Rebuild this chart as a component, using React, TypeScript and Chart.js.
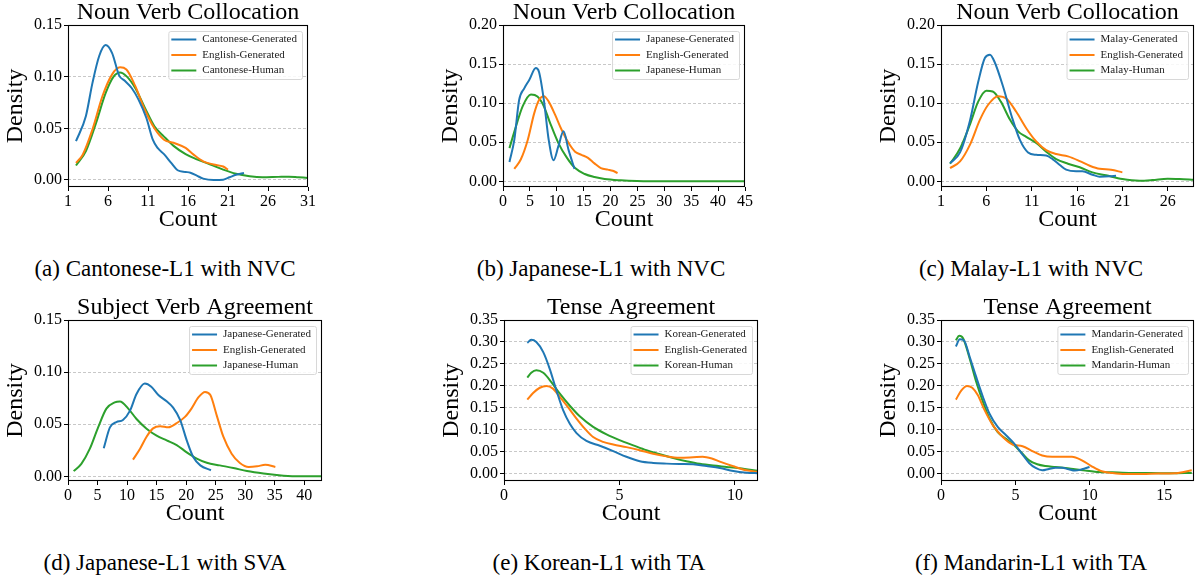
import React, { useEffect, useRef } from 'react';
import { Chart, registerables } from 'chart.js';

Chart.register(...registerables);

type Pt = [number, number];

// ---------- (a) Cantonese-L1 with NVC ----------
const cantoneseGenA: Pt[] = [[2.0,0.0375],[3.24,0.062],[4.06,0.094],[4.9,0.12],[5.7,0.1306],[6.5,0.123],[7.4,0.101],[8.1,0.096],[8.96,0.089],[9.8,0.078],[10.8,0.060],[11.6,0.039],[12.2,0.031],[13.0,0.025],[13.9,0.0165],[14.7,0.0094],[15.7,0.0078],[16.3,0.007],[17.1,0.0042],[17.9,0.0013],[19.2,0.0],[20.4,0.0003],[21.2,0.0026],[22.0,0.005],[23.0,0.0068]];
const englishGenA: Pt[] = [[2.0,0.0165],[2.84,0.0245],[4.06,0.049],[5.3,0.081],[6.5,0.102],[7.5,0.109],[8.3,0.107],[9.4,0.091],[10.6,0.068],[11.8,0.050],[13.0,0.039],[14.2,0.036],[15.7,0.031],[16.7,0.0245],[17.9,0.018],[19.2,0.015],[20.4,0.013],[21.0,0.010]];
const cantoneseHumA: Pt[] = [[2.0,0.014],[3.24,0.028],[4.5,0.055],[5.7,0.084],[6.7,0.100],[7.5,0.104],[8.3,0.1005],[9.4,0.089],[10.6,0.070],[11.8,0.052],[13.0,0.042],[14.2,0.033],[15.7,0.025],[17.1,0.020],[18.8,0.015],[20.4,0.010],[22.0,0.006],[23.7,0.0036],[25.3,0.0026],[27.3,0.003],[28.6,0.0032],[29.8,0.0026],[31.0,0.002]];

// ---------- (b) Japanese-L1 with NVC ----------
const japaneseGenB: Pt[] = [[1.2,0.0247],[2.1,0.053],[3.0,0.104],[3.95,0.119],[4.9,0.130],[6.1,0.145],[6.7,0.140],[7.6,0.104],[8.5,0.053],[9.4,0.027],[10.3,0.045],[11.25,0.064],[12.2,0.040],[13.3,0.016]];
const englishGenB: Pt[] = [[2.1,0.016],[3.3,0.028],[4.6,0.053],[5.8,0.087],[6.7,0.104],[7.6,0.109],[8.5,0.102],[9.7,0.085],[10.9,0.066],[12.2,0.049],[13.4,0.038],[14.6,0.034],[15.8,0.030],[17.0,0.023],[18.2,0.017],[19.5,0.015],[20.4,0.0136],[21.3,0.0106]];
const japaneseHumB: Pt[] = [[1.2,0.0425],[2.4,0.070],[3.65,0.096],[5.2,0.111],[6.4,0.1085],[7.6,0.096],[8.8,0.074],[10.3,0.049],[11.9,0.030],[13.4,0.017],[15.2,0.0094],[17.0,0.0055],[18.9,0.003],[21.9,0.0013],[24.9,0.0004],[31.0,0.0],[45.0,0.0]];

// ---------- (c) Malay-L1 with NVC ----------
const malayGenC: Pt[] = [[2.0,0.0234],[3.1,0.037],[4.2,0.078],[5.1,0.127],[5.85,0.158],[6.4,0.162],[6.9,0.153],[7.85,0.121],[8.8,0.083],[9.7,0.053],[10.6,0.037],[11.5,0.034],[12.6,0.033],[13.3,0.0285],[14.1,0.021],[14.8,0.015],[15.9,0.0128],[16.6,0.0128],[17.7,0.0085],[18.5,0.006],[19.6,0.0064],[20.3,0.0072]];
const englishGenC: Pt[] = [[2.0,0.017],[3.1,0.0255],[4.2,0.047],[5.3,0.079],[6.2,0.098],[7.3,0.109],[8.2,0.106],[9.3,0.089],[10.4,0.068],[11.5,0.051],[12.6,0.040],[13.7,0.035],[15.0,0.032],[16.3,0.026],[17.4,0.020],[18.5,0.016],[19.75,0.015],[21.0,0.0115]];
const malayHumC: Pt[] = [[2.0,0.0226],[3.1,0.042],[4.2,0.073],[5.1,0.102],[6.0,0.116],[6.7,0.115],[7.6,0.102],[8.6,0.079],[9.5,0.064],[10.4,0.057],[11.5,0.049],[12.6,0.038],[13.7,0.0285],[15.0,0.0226],[16.3,0.018],[17.7,0.0115],[19.2,0.0077],[21.0,0.003],[22.9,0.0009],[24.3,0.0017],[26.0,0.0034],[27.3,0.003],[28.9,0.002]];

// ---------- (d) Japanese-L1 with SVA ----------
const japaneseGenD: Pt[] = [[6.05,0.027],[7.1,0.047],[8.2,0.052],[9.3,0.054],[10.5,0.063],[11.6,0.079],[13.0,0.089],[14.1,0.086],[15.3,0.078],[16.7,0.072],[17.8,0.066],[19.0,0.054],[20.1,0.0345],[21.2,0.0185],[22.4,0.0105],[24.2,0.0058]];
const englishGenD: Pt[] = [[11.0,0.016],[12.2,0.0265],[13.3,0.038],[14.4,0.046],[15.6,0.048],[17.0,0.047],[18.4,0.051],[19.8,0.057],[20.9,0.065],[22.1,0.076],[23.2,0.081],[24.1,0.078],[25.2,0.058],[26.3,0.038],[27.7,0.0217],[29.1,0.0128],[30.6,0.009],[32.0,0.0096],[33.4,0.011],[35.1,0.009]];
const japaneseHumD: Pt[] = [[0.96,0.005],[2.26,0.012],[3.7,0.0265],[5.1,0.047],[6.5,0.065],[7.9,0.071],[8.8,0.0719],[10.2,0.065],[11.6,0.055],[13.3,0.0457],[15.0,0.039],[16.7,0.0345],[18.4,0.030],[20.1,0.023],[21.8,0.017],[23.5,0.013],[25.7,0.0105],[28.0,0.008],[30.3,0.005],[33.1,0.0026],[36.5,0.0006],[39.3,0.0],[43.0,0.0]];

// ---------- (e) Korean-L1 with TA ----------
const koreanGenE: Pt[] = [[1.01,0.298],[1.18,0.305],[1.4,0.300],[1.7,0.277],[1.98,0.239],[2.27,0.190],[2.56,0.145],[2.85,0.114],[3.14,0.093],[3.57,0.075],[4.15,0.064],[4.73,0.052],[5.3,0.039],[5.88,0.029],[6.46,0.025],[7.04,0.0235],[7.6,0.0227],[8.19,0.022],[8.77,0.018],[9.35,0.0136],[9.93,0.0068],[10.5,0.003],[11.0,0.0015]];
const englishGenE: Pt[] = [[1.01,0.169],[1.26,0.184],[1.55,0.196],[1.84,0.200],[2.12,0.194],[2.41,0.176],[2.77,0.152],[3.14,0.126],[3.5,0.103],[3.86,0.084],[4.29,0.073],[4.73,0.067],[5.3,0.061],[5.88,0.054],[6.46,0.046],[7.04,0.040],[7.6,0.037],[8.19,0.038],[8.6,0.039],[9.0,0.035],[9.35,0.028],[9.93,0.0174],[10.5,0.0083],[11.0,0.0045]];
const koreanHumE: Pt[] = [[1.01,0.219],[1.18,0.230],[1.4,0.2356],[1.7,0.230],[2.05,0.209],[2.41,0.183],[2.85,0.155],[3.28,0.131],[3.86,0.107],[4.44,0.090],[5.0,0.077],[5.6,0.065],[6.17,0.054],[6.75,0.045],[7.33,0.036],[7.9,0.029],[8.48,0.023],[9.06,0.019],[9.64,0.016],[10.2,0.013],[11.0,0.007]];

// ---------- (f) Mandarin-L1 with TA ----------
const mandarinGenF: Pt[] = [[1.0,0.290],[1.26,0.306],[1.53,0.304],[1.93,0.266],[2.37,0.220],[2.82,0.175],[3.26,0.137],[3.81,0.107],[4.37,0.088],[4.92,0.069],[5.48,0.044],[5.92,0.025],[6.36,0.0136],[6.8,0.0083],[7.25,0.0114],[7.7,0.0144],[8.14,0.0144],[8.58,0.0106],[9.0,0.0076],[9.47,0.0106],[9.98,0.016]];
const englishGenF: Pt[] = [[1.0,0.169],[1.37,0.190],[1.75,0.200],[2.1,0.196],[2.48,0.179],[2.93,0.145],[3.48,0.111],[4.15,0.084],[4.81,0.067],[5.48,0.063],[6.14,0.052],[6.8,0.042],[7.47,0.039],[8.14,0.039],[8.8,0.039],[9.47,0.031],[10.1,0.018],[10.8,0.006],[11.5,0.0023],[12.35,0.0],[13.5,0.0],[14.6,0.0008],[15.7,0.0015],[16.85,0.0083]];
const mandarinHumF: Pt[] = [[1.0,0.304],[1.22,0.314],[1.49,0.308],[1.93,0.262],[2.37,0.209],[2.82,0.164],[3.26,0.126],[3.81,0.095],[4.37,0.080],[4.92,0.065],[5.48,0.046],[5.92,0.031],[6.47,0.022],[7.03,0.018],[7.7,0.016],[8.36,0.0136],[9.0,0.0106],[9.7,0.0076],[10.35,0.0053],[11.5,0.0038],[12.8,0.0023],[14.1,0.0023],[15.45,0.0015],[16.85,0.0023]];

// ---------- tick labels ----------
const xTicksA = [1, 6, 11, 16, 21, 26, 31];
const xTicksB = [0, 5, 10, 15, 20, 25, 30, 35, 40, 45];
const xTicksC = [1, 6, 11, 16, 21, 26];
const xTicksD = [0, 5, 10, 15, 20, 25, 30, 35, 40];
const xTicksE = [0, 5, 10];
const xTicksF = [0, 5, 10, 15];
const yTicks015 = [0, 0.05, 0.1, 0.15];
const yTicks020 = [0, 0.05, 0.1, 0.15, 0.2];
const yTicks035 = [0, 0.05, 0.1, 0.15, 0.2, 0.25, 0.3, 0.35];

const SERIF = '"Liberation Serif", "Times New Roman", serif';
const COLORS = ['#1f77b4', '#ff7f0e', '#2ca02c'];
const Y_AXIS_W = 68;
const TITLE_H = 25;
const X_AXIS_H = 48;

interface Panel {
  title: string;
  labels: string[];
  series: Pt[][];
  xMin: number; xMax: number; xTicks: number[];
  yMin: number; yMax: number; yTicks: number[];
  box: { left: number; top: number; right: number; bottom: number };
  caption: string; captionX: number; captionTop: number;
}

const panels: Panel[] = [
  { title: 'Noun Verb Collocation', labels: ['Cantonese-Generated', 'English-Generated', 'Cantonese-Human'],
    series: [cantoneseGenA, englishGenA, cantoneseHumA], xMin: 1, xMax: 31, xTicks: xTicksA,
    yMin: -0.0068, yMax: 0.15, yTicks: yTicks015, box: { left: 68, top: 25, right: 313, bottom: 187 },
    caption: '(a) Cantonese-L1 with NVC', captionX: 165, captionTop: 257 },
  { title: 'Noun Verb Collocation', labels: ['Japanese-Generated', 'English-Generated', 'Japanese-Human'],
    series: [japaneseGenB, englishGenB, japaneseHumB], xMin: 0, xMax: 45, xTicks: xTicksB,
    yMin: -0.0072, yMax: 0.2, yTicks: yTicks020, box: { left: 503, top: 25, right: 750, bottom: 187 },
    caption: '(b) Japanese-L1 with NVC', captionX: 601, captionTop: 257 },
  { title: 'Noun Verb Collocation', labels: ['Malay-Generated', 'English-Generated', 'Malay-Human'],
    series: [malayGenC, englishGenC, malayHumC], xMin: 1, xMax: 28.9, xTicks: xTicksC,
    yMin: -0.0072, yMax: 0.2, yTicks: yTicks020, box: { left: 941, top: 25, right: 1194, bottom: 187 },
    caption: '(c) Malay-L1 with NVC', captionX: 1031, captionTop: 257 },
  { title: 'Subject Verb Agreement', labels: ['Japanese-Generated', 'English-Generated', 'Japanese-Human'],
    series: [japaneseGenD, englishGenD, japaneseHumD], xMin: 0, xMax: 43, xTicks: xTicksD,
    yMin: -0.0045, yMax: 0.15, yTicks: yTicks015, box: { left: 68, top: 320, right: 322, bottom: 481 },
    caption: '(d) Japanese-L1 with SVA', captionX: 165, captionTop: 551 },
  { title: 'Tense Agreement', labels: ['Korean-Generated', 'English-Generated', 'Korean-Human'],
    series: [koreanGenE, englishGenE, koreanHumE], xMin: 0, xMax: 11, xTicks: xTicksE,
    yMin: -0.016, yMax: 0.35, yTicks: yTicks035, box: { left: 504, top: 320, right: 758, bottom: 481 },
    caption: '(e) Korean-L1 with TA', captionX: 599, captionTop: 551 },
  { title: 'Tense Agreement', labels: ['Mandarin-Generated', 'English-Generated', 'Mandarin-Human'],
    series: [mandarinGenF, englishGenF, mandarinHumF], xMin: 0, xMax: 17, xTicks: xTicksF,
    yMin: -0.016, yMax: 0.35, yTicks: yTicks035, box: { left: 941, top: 320, right: 1194, bottom: 481 },
    caption: '(f) Mandarin-L1 with TA', captionX: 1031, captionTop: 551 },
];

function PanelChart({ p }: { p: Panel }) {
  const ref = useRef<HTMLCanvasElement>(null);
  const left = p.box.left - Y_AXIS_W;
  const top = p.box.top - TITLE_H;
  const rightPad = Math.min(6, 1198 - p.box.right);
  const width = p.box.right - left + rightPad;
  const height = p.box.bottom - top + X_AXIS_H;

  useEffect(() => {
    if (!ref.current) return;
    const decor = {
      id: 'panelDecor',
      afterDraw(chart: any) {
        const { ctx, chartArea: a } = chart;
        ctx.save();
        ctx.strokeStyle = '#000';
        ctx.lineWidth = 1.1;
        ctx.strokeRect(Math.round(a.left) + 0.5, Math.round(a.top) + 0.5,
          Math.round(a.right - a.left) - 1, Math.round(a.bottom - a.top) - 1);
        // legend
        ctx.font = `11px ${SERIF}`;
        const textW = Math.max(...p.labels.map((l) => ctx.measureText(l).width));
        const w = 34 + textW + 5;
        const h = 48;
        const x = a.right - 6 - w;
        const y = a.top + 6;
        ctx.beginPath();
        (ctx as any).roundRect(x + 0.5, y + 0.5, w, h, 2);
        ctx.fillStyle = 'rgba(255,255,255,0.85)';
        ctx.fill();
        ctx.strokeStyle = '#d8d8d8';
        ctx.lineWidth = 1;
        ctx.stroke();
        p.labels.forEach((l, i) => {
          const cy = y + 8.5 + i * 15.5;
          ctx.beginPath();
          ctx.moveTo(x + 3, cy);
          ctx.lineTo(x + 28, cy);
          ctx.strokeStyle = COLORS[i];
          ctx.lineWidth = 2;
          ctx.stroke();
          ctx.fillStyle = '#222';
          ctx.textBaseline = 'middle';
          ctx.textAlign = 'left';
          ctx.fillText(l, x + 34, cy);
        });
        ctx.restore();
      },
    };

    const tickFont = { family: SERIF, size: 16, weight: 'normal' as const, lineHeight: 1 };
    const labelFont = { family: SERIF, size: 24, weight: 'normal' as const, lineHeight: 1 };

    const chart = new Chart(ref.current, {
      type: 'line',
      data: {
        datasets: p.series.map((s, i) => ({
          label: p.labels[i],
          data: s.map(([x, y]) => ({ x, y })),
          borderColor: COLORS[i],
          backgroundColor: COLORS[i],
          borderWidth: 2,
          pointRadius: 0,
          pointHoverRadius: 0,
          fill: false,
          cubicInterpolationMode: 'monotone' as const,
        })),
      },
      options: {
        animation: false,
        responsive: false,
        maintainAspectRatio: false,
        events: [],
        layout: { padding: { left: 0, right: rightPad, top: 0, bottom: 0 }, autoPadding: false },
        plugins: {
          legend: { display: false },
          tooltip: { enabled: false },
          title: {
            display: true,
            text: p.title,
            fullSize: false,
            color: '#000',
            font: labelFont,
            padding: { top: 1, bottom: 0 },
          },
        },
        scales: {
          x: {
            type: 'linear',
            min: p.xMin,
            max: p.xMax,
            afterBuildTicks: (scale: any) => { scale.ticks = p.xTicks.map((v) => ({ value: v })); },
            afterFit: (scale: any) => { scale.height = X_AXIS_H; },
            grid: { drawOnChartArea: false, drawTicks: true, tickLength: 4, tickColor: '#000', tickWidth: 1 },
            border: { display: false },
            ticks: { color: '#000', font: tickFont, padding: 3, autoSkip: false, maxRotation: 0, callback: (v: any) => String(v) },
            title: { display: true, text: 'Count', color: '#000', font: labelFont, padding: { top: 0, bottom: 3 } },
          },
          y: {
            type: 'linear',
            min: p.yMin,
            max: p.yMax,
            afterBuildTicks: (scale: any) => { scale.ticks = p.yTicks.map((v) => ({ value: v })); },
            afterFit: (scale: any) => { scale.width = Y_AXIS_W; },
            grid: { drawOnChartArea: true, color: '#c8c8c8', lineWidth: 1, drawTicks: true, tickLength: 4, tickColor: '#000', tickWidth: 1 },
            border: { display: false, dash: [3, 2] },
            ticks: { color: '#000', font: tickFont, padding: 2, autoSkip: false, callback: (v: any) => Number(v).toFixed(2) },
            title: { display: true, text: 'Density', color: '#000', font: labelFont, padding: { top: 4, bottom: 0 } },
          },
        },
      },
      plugins: [decor],
    } as any);
    return () => chart.destroy();
  }, []);

  return (
    <canvas
      ref={ref}
      width={width}
      height={height}
      style={{ position: 'absolute', left, top, width, height }}
    />
  );
}

export default function App() {
  return (
    <div style={{ position: 'absolute', left: 0, top: 0, width: 1198, height: 580, background: '#fff', overflow: 'hidden' }}>
      {panels.map((p, i) => (
        <React.Fragment key={i}>
          <PanelChart p={p} />
          <div
            style={{
              position: 'absolute',
              left: p.captionX - 250,
              width: 500,
              top: p.captionTop,
              textAlign: 'center',
              fontFamily: SERIF,
              fontSize: 23,
              lineHeight: '23px',
              color: '#000',
              whiteSpace: 'nowrap',
            }}
          >
            {p.caption}
          </div>
        </React.Fragment>
      ))}
    </div>
  );
}
